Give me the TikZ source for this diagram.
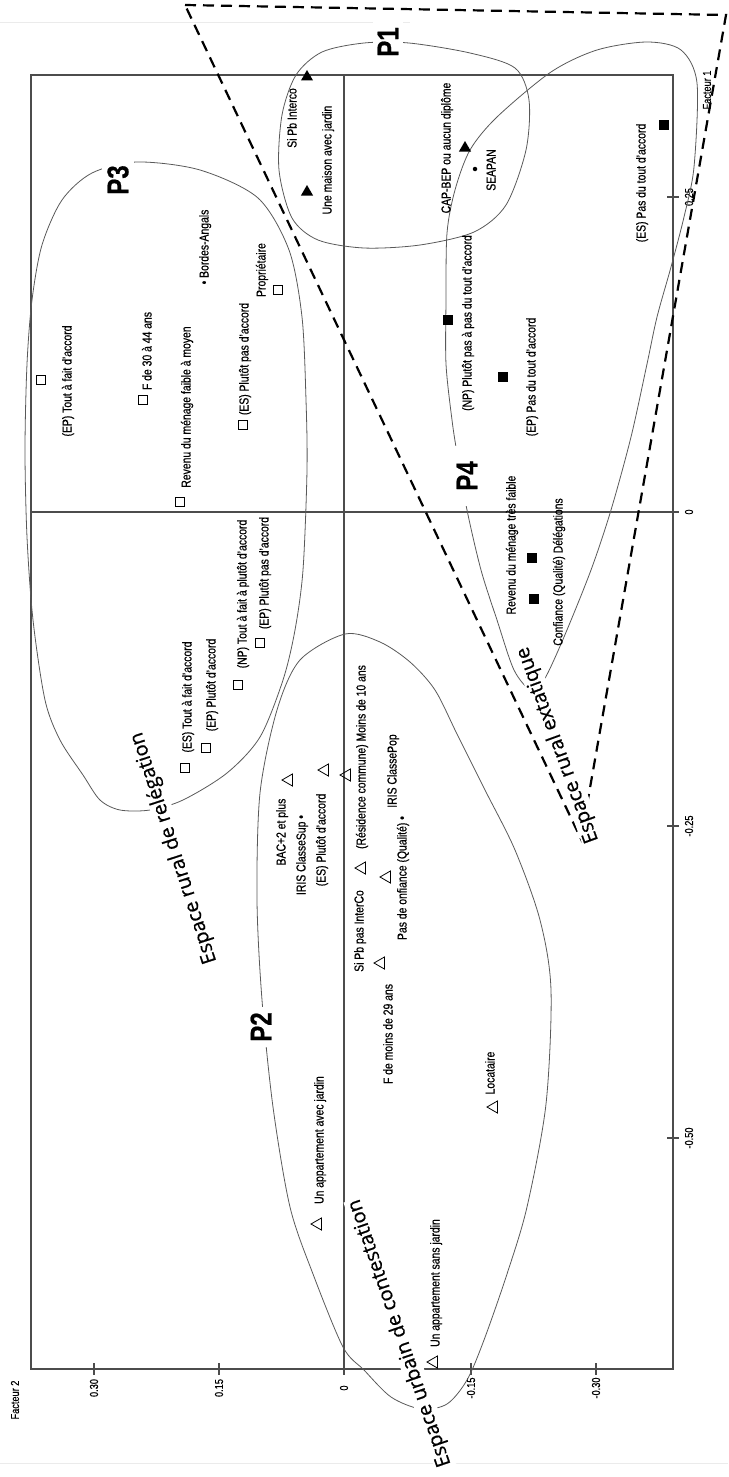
\documentclass[tikz,border=0pt]{standalone}
\usepackage{fontspec}
\setmainfont{Liberation Sans}[FakeStretch=0.8, FakeBold=0.6]
\newfontfamily\grandfont{Open Sans}[FakeBold=0.6]
\usetikzlibrary{shapes.geometric}
\tikzset{
  lab/.style={rotate=90, inner sep=1pt, text height=9.5pt, text depth=2.5pt, font=\fontsize{13}{15}\selectfont},
  gradu/.style={rotate=90, inner sep=1pt, font=\fontsize{11.5}{13}\selectfont},
  carre/.style={draw, minimum size=9.5pt, inner sep=0pt, line width=0.9pt},
  carrenoir/.style={fill, minimum size=10.5pt, inner sep=0pt},
  tri/.style={draw, regular polygon, regular polygon sides=3, minimum size=14pt, inner sep=0pt, rotate=90, line width=0.8pt},
  trinoir/.style={fill, regular polygon, regular polygon sides=3, minimum size=14pt, inner sep=0pt},
  pt/.style={circle, fill, minimum size=4.5pt, inner sep=0pt},
  zone/.style={draw=black!65, line width=0.8pt},
  axe/.style={draw=black!70, line width=1.3pt},
  plab/.style={rotate=90, fill=white, inner sep=5pt, font=\fontsize{30}{32}\selectfont\bfseries},
  grand/.style={fill=white, inner sep=1pt, font=\grandfont\fontsize{20}{22}\selectfont}
}
\begin{document}
\begin{tikzpicture}[x=1pt,y=-1pt]
\useasboundingbox (0,0) rectangle (728,1477);
\draw[black!8] (0,22) -- (410,22);
\draw[black!8] (0,1463) -- (728,1463);
% cadre et axes
\draw[axe, line width=1.8pt] (31,75) rectangle (673,1369);
\draw[axe] (31,512) -- (673,512);
\draw[axe] (344,75) -- (344,1369);
\foreach \y/\v in {197/0.25,512/0,826/-0.25,1138/-0.50}{
  \draw[axe] (667,\y) -- (679,\y);
  \node[gradu] (ga\y) at (689,\y) {\v};
}
\foreach \x/\v in {94/0.30,219/0.15,344/0,471/-0.15,596/-0.30}{
  \draw[axe] (\x,1363) -- (\x,1375);
  \node[gradu] (gb\x) at (\x,1388) {\v};
}
\node[gradu] (F1) at (707,90) {Facteur 1};
\node[gradu] (F2) at (15,1400) {Facteur 2};
% zones
\draw[zone] plot[smooth cycle] coordinates {(409,43) (470,53) (515,68) (529,100) (526,150) (506,205) (474,232) (420,245) (364,248) (318,240) (292,218) (279,170) (282,115) (296,75) (322,52) (364,43)};
\draw[zone] plot[smooth cycle] coordinates {(497,117) (551,72) (597,50) (647,42) (681,50) (697,83) (694,167) (684,217) (671,267) (657,317) (647,364) (631,437) (611,510) (591,570) (564,637) (544,680) (531,690) (514,670) (497,620) (481,570) (467,510) (457,453) (452,420) (446,364) (446,300) (447,233) (455,190) (470,150)};
\draw[zone] plot[smooth cycle] coordinates {(137,162) (200,170) (258,198) (289,250) (302,317) (306,400) (307,470) (303,570) (295,630) (283,680) (260,737) (227,773) (183,800) (150,810) (120,810) (100,800) (83,775) (60,740) (45,700) (33,620) (27,537) (25,450) (27,364) (32,300) (42,245) (62,200) (92,173)};
\draw[zone] plot[smooth cycle] coordinates {(345,634) (380,642) (410,662) (435,690) (457,734) (485,790) (515,850) (540,920) (551,990) (546,1104) (527,1207) (507,1274) (484,1340) (467,1380) (447,1404) (421,1409) (391,1397) (364,1370) (343,1347) (313,1274) (290,1207) (273,1107) (262,1000) (257,900) (260,793) (277,710) (300,660)};
\draw[line width=2.2pt, dash pattern=on 11pt off 7pt] (185,5) -- (726,15) -- (581,839) -- cycle;
% P1
\node[trinoir] (A1) at (307,77) {};
\node[lab] (B1) at (293,118) {Si Pb Interco};
\node[trinoir] (A2) at (307,192) {};
\node[lab] (B2) at (328,160) {Une maison avec jardin};
\node[trinoir] (A3) at (465,148) {};
\node[lab] (B3) at (447,148) {CAP-BEP ou aucun diplôme};
\node[pt] (A4) at (475,169) {};
\node[lab] (B4) at (492,170) {SEAPAN};
% P3
\node[lab] (B5) at (205,247) {• Bordes-Angals};
\node[carre] (C1) at (278,290) {};
\node[lab] (D1) at (262,270) {Propriétaire};
\node[carre] (C2) at (41,380) {};
\node[lab] (D2) at (68,381) {(EP) Tout à fait d'accord};
\node[carre] (C3) at (143,400) {};
\node[lab] (D3) at (148,351) {F de 30 à 44 ans};
\node[carre] (C4) at (180,502) {};
\node[lab] (D4) at (187,407) {Revenu du ménage faible à moyen};
\node[carre] (C5) at (243,425) {};
\node[lab] (D5) at (245,359) {(ES) Plutôt pas d'accord};
\node[carre] (C6) at (238,685) {};
\node[lab] (D6) at (243,594) {(NP) Tout à fait à plutôt d'accord};
\node[carre] (C7) at (260,643) {};
\node[lab] (D7) at (265,573) {(EP) Plutôt pas d'accord};
\node[carre] (C8) at (185,768) {};
\node[lab] (D8) at (188,697) {(ES) Tout à fait d'accord};
\node[carre] (C9) at (206,748) {};
\node[lab] (D9) at (212,685) {(EP) Plutôt d'accord};
% P2
\node[tri] (E1) at (289,780) {};
\node[lab] (G1) at (282,832) {BAC+2 et plus};
\node[lab] (G2) at (302,855) {IRIS ClasseSup •};
\node[tri] (E3) at (325,770) {};
\node[lab] (G3) at (322,840) {(ES) Plutôt d'accord};
\node[tri] (E4) at (347,775) {};
\node[lab] (G4) at (362,757) {(Résidence commune) Moins de 10 ans};
\node[tri] (E5) at (362,868) {};
\node[lab] (G5) at (360,931) {Si Pb pas InterCo};
\node[lab] (G6) at (393,771) {IRIS ClassePop};
\node[tri] (E7) at (387,877) {};
\node[lab] (G7) at (403,878) {Pas de onfiance (Qualité) •};
\node[tri] (E8) at (381,963) {};
\node[lab] (G8) at (389,1034) {F de moins de 29 ans};
\node[tri] (E9) at (494,1107) {};
\node[lab] (G9) at (491,1073) {Locataire};
\node[tri] (E10) at (318,1224) {};
\node[lab] (G10) at (320,1140) {Un appartement avec jardin};
\node[tri] (E11) at (434,1362) {};
\node[lab] (G11) at (436,1283) {Un appartement sans jardin};
% P4
\node[carrenoir] (H1) at (448,320) {};
\node[lab] (K1) at (468,323) {(NP) Plutôt pas à pas du tout d'accord};
\node[carrenoir] (H2) at (503,377) {};
\node[lab] (K2) at (532,377) {(EP) Pas du tout d'accord};
\node[carrenoir] (H3) at (664,125) {};
\node[lab] (K3) at (642,183) {(ES) Pas du tout d'accord};
\node[carrenoir] (H4) at (532,558) {};
\node[lab] (K4) at (512,545) {Revenu du ménage très faible};
\node[carrenoir] (H5) at (534,599) {};
\node[lab] (K5) at (559,572) {Confiance (Qualité) Délégations};
% titres
\node[plab] (P1) at (388,42) {P1};
\node[plab] (P2) at (261,1027) {P2};
\node[plab] (P3) at (118,180) {P3};
\node[plab, minimum width=60pt] (P4) at (467,476) {P4};
\node[grand, rotate=108] (Z1) at (174,848) {Espace rural de relégation};
\node[grand, rotate=109] (Z2) at (400,1333) {Espace urbain de contestation};
\node[grand, rotate=110] (Z3) at (558,745) {Espace rural extatique};
\end{tikzpicture}
\end{document}
